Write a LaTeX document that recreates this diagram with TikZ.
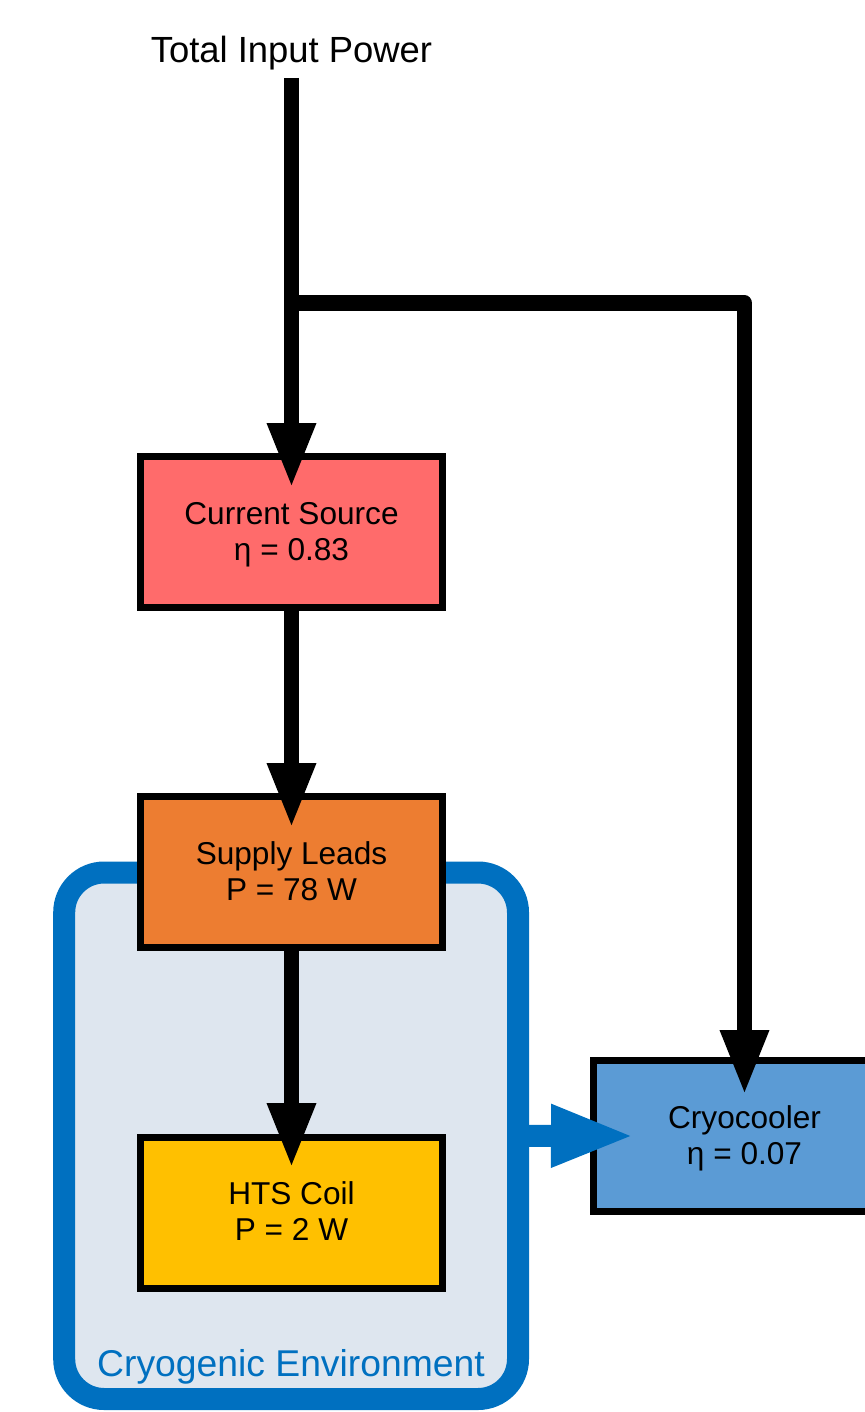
\documentclass[tikz,border=0pt]{standalone}
\usepackage{fontspec}
\setmainfont{Liberation Sans}
\usetikzlibrary{arrows.meta,calc}
\definecolor{csred}{HTML}{FF6B6B}
\definecolor{slorange}{HTML}{ED7D31}
\definecolor{htsyellow}{HTML}{FFC000}
\definecolor{cryoblue}{HTML}{5B9BD5}
\definecolor{envblue}{HTML}{0070C0}
\definecolor{envfill}{HTML}{DEE6EF}
\tikzset{
  stagebox/.style={draw=black, line width=7pt, minimum width=302pt, minimum height=151pt,
    inner sep=0pt, outer sep=0pt, align=center, text height=56pt, text depth=0pt,
    font=\fontsize{31.6}{36}\selectfont},
  flow/.style={line width=15pt, black, line join=round, -{Triangle[length=65pt,width=45pt]}},
  heatflow/.style={line width=22pt, envblue, -{Triangle[length=84pt,width=57pt]}},
  envbox/.style={draw=envblue, fill=envfill, line width=22pt, rounded corners=40pt,
    minimum width=453.8pt, minimum height=526.5pt, inner sep=0pt, outer sep=0pt},
}
\begin{document}
\begin{tikzpicture}[x=1pt,y=-1pt]
\useasboundingbox (0,0) rectangle (864,1412);
% cryogenic environment
\node[envbox] (env) at (291.1,1135.75) {};
\node[anchor=base, text=envblue, font=\fontsize{37.3}{40}\selectfont] (envlabel) at (291,1376) {Cryogenic Environment};
% stages
\node[stagebox, fill=csred] (cs) at (291.5,532) {Current Source\\η = 0.83};
\node[stagebox, fill=slorange] (sl) at (291.5,872) {Supply Leads\\P = 78 W};
\node[stagebox, fill=htsyellow] (hts) at (291.5,1212.5) {HTS Coil\\P = 2 W};
\node[stagebox, fill=cryoblue] (cryo) at (744.5,1136) {Cryocooler\\η = 0.07};
% title
\node[anchor=base, font=\fontsize{36.4}{40}\selectfont] (title) at (291.5,63) {Total Input Power};
\coordinate (in) at (291.5,78);
\coordinate (br) at (291.5,303);
% connectors
\draw[flow] (in) -- ([yshift=-31.5pt]cs.north);
\draw[flow] (br) -- (cryo.north |- br) -- ([yshift=-34.5pt]cryo.north);
\draw[flow] (cs.south) -- ([yshift=-31.5pt]sl.north);
\draw[flow] (sl.south) -- ([yshift=-31pt]hts.north);
\draw[heatflow] (env.east) -- ([xshift=41.5pt]cryo.west);
\end{tikzpicture}
\end{document}
